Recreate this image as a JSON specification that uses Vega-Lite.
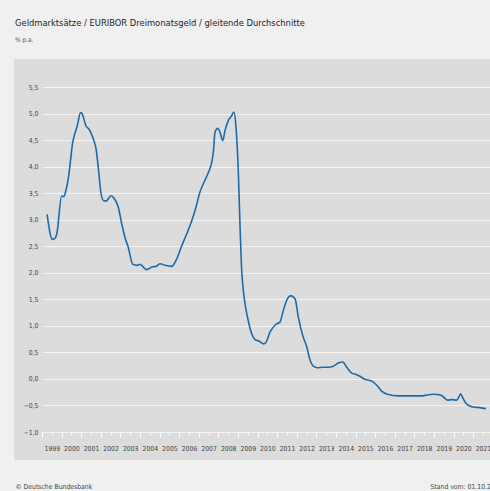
{
  "$schema": "https://vega.github.io/schema/vega-lite/v6.json",
  "autosize": {"type": "none"},
  "width": 448,
  "height": 345,
  "padding": {"left": 42, "top": 87, "right": 0, "bottom": 59},
  "background": "#f0f0f0",
  "title": {
    "text": "Geldmarktsätze / EURIBOR Dreimonatsgeld / gleitende Durchschnitte",
    "subtitle": "% p.a.",
    "anchor": "start",
    "frame": "group",
    "dx": -27,
    "offset": 40,
    "font": "DejaVu Sans Condensed, Liberation Sans Narrow, Open Sans",
    "fontSize": 9.3,
    "fontWeight": "normal",
    "color": "#222222",
    "subtitleFont": "DejaVu Sans Condensed, Liberation Sans Narrow, Open Sans",
    "subtitleFontSize": 6.5,
    "subtitleColor": "#555555",
    "subtitlePadding": 9
  },
  "data": {
    "values": [
      {"t": 1999.26, "v": 3.10}, {"t": 1999.53, "v": 2.63}, {"t": 1999.63, "v": 2.64}, {"t": 1999.75, "v": 2.72},
      {"t": 2000.00, "v": 3.44}, {"t": 2000.12, "v": 3.44}, {"t": 2000.22, "v": 3.55}, {"t": 2000.34, "v": 3.77},
      {"t": 2000.57, "v": 4.46}, {"t": 2000.80, "v": 4.77}, {"t": 2000.97, "v": 5.02}, {"t": 2001.04, "v": 5.00},
      {"t": 2001.24, "v": 4.77}, {"t": 2001.41, "v": 4.70}, {"t": 2001.62, "v": 4.52}, {"t": 2001.76, "v": 4.33},
      {"t": 2001.87, "v": 3.99}, {"t": 2001.99, "v": 3.55}, {"t": 2002.13, "v": 3.36}, {"t": 2002.27, "v": 3.35},
      {"t": 2002.52, "v": 3.45}, {"t": 2002.64, "v": 3.42}, {"t": 2002.89, "v": 3.24}, {"t": 2003.07, "v": 2.92},
      {"t": 2003.23, "v": 2.67}, {"t": 2003.40, "v": 2.48}, {"t": 2003.63, "v": 2.16}, {"t": 2003.86, "v": 2.14},
      {"t": 2004.00, "v": 2.16}, {"t": 2004.14, "v": 2.12}, {"t": 2004.31, "v": 2.06}, {"t": 2004.42, "v": 2.07},
      {"t": 2004.60, "v": 2.11}, {"t": 2004.82, "v": 2.12}, {"t": 2005.02, "v": 2.17}, {"t": 2005.28, "v": 2.14},
      {"t": 2005.62, "v": 2.12}, {"t": 2005.73, "v": 2.16}, {"t": 2005.87, "v": 2.26}, {"t": 2006.13, "v": 2.51},
      {"t": 2006.38, "v": 2.73}, {"t": 2006.64, "v": 2.98}, {"t": 2006.86, "v": 3.24}, {"t": 2007.06, "v": 3.52},
      {"t": 2007.27, "v": 3.71}, {"t": 2007.49, "v": 3.89}, {"t": 2007.66, "v": 4.08}, {"t": 2007.74, "v": 4.27},
      {"t": 2007.83, "v": 4.65}, {"t": 2007.96, "v": 4.72}, {"t": 2008.08, "v": 4.65}, {"t": 2008.22, "v": 4.49},
      {"t": 2008.34, "v": 4.68}, {"t": 2008.51, "v": 4.87}, {"t": 2008.68, "v": 4.96}, {"t": 2008.78, "v": 5.03},
      {"t": 2008.90, "v": 4.74}, {"t": 2009.02, "v": 3.86}, {"t": 2009.10, "v": 2.92}, {"t": 2009.19, "v": 2.04},
      {"t": 2009.27, "v": 1.67}, {"t": 2009.39, "v": 1.35}, {"t": 2009.52, "v": 1.10}, {"t": 2009.70, "v": 0.85},
      {"t": 2009.87, "v": 0.74}, {"t": 2010.09, "v": 0.71}, {"t": 2010.30, "v": 0.66}, {"t": 2010.43, "v": 0.69},
      {"t": 2010.63, "v": 0.88}, {"t": 2010.94, "v": 1.03}, {"t": 2011.14, "v": 1.07}, {"t": 2011.31, "v": 1.29},
      {"t": 2011.52, "v": 1.51}, {"t": 2011.69, "v": 1.57}, {"t": 2011.91, "v": 1.51}, {"t": 2012.08, "v": 1.16},
      {"t": 2012.30, "v": 0.82}, {"t": 2012.51, "v": 0.60}, {"t": 2012.68, "v": 0.35}, {"t": 2012.84, "v": 0.24},
      {"t": 2013.05, "v": 0.21}, {"t": 2013.32, "v": 0.22}, {"t": 2013.61, "v": 0.22}, {"t": 2013.86, "v": 0.24},
      {"t": 2014.12, "v": 0.30}, {"t": 2014.34, "v": 0.32}, {"t": 2014.55, "v": 0.22}, {"t": 2014.80, "v": 0.11},
      {"t": 2015.06, "v": 0.08}, {"t": 2015.22, "v": 0.05}, {"t": 2015.43, "v": 0.00}, {"t": 2015.82, "v": -0.04},
      {"t": 2016.08, "v": -0.12}, {"t": 2016.33, "v": -0.23}, {"t": 2016.62, "v": -0.29}, {"t": 2017.20, "v": -0.32},
      {"t": 2017.78, "v": -0.32}, {"t": 2018.37, "v": -0.32}, {"t": 2018.54, "v": -0.31}, {"t": 2018.97, "v": -0.29},
      {"t": 2019.31, "v": -0.30}, {"t": 2019.48, "v": -0.34}, {"t": 2019.70, "v": -0.40}, {"t": 2019.91, "v": -0.39},
      {"t": 2020.16, "v": -0.40}, {"t": 2020.28, "v": -0.33}, {"t": 2020.36, "v": -0.28}, {"t": 2020.46, "v": -0.35},
      {"t": 2020.63, "v": -0.46}, {"t": 2020.83, "v": -0.51}, {"t": 2021.00, "v": -0.53}, {"t": 2021.34, "v": -0.54},
      {"t": 2021.65, "v": -0.56}
    ]
  },
  "encoding": {
    "y": {
      "field": "v", "type": "quantitative",
      "scale": {"domain": [-1, 5.5], "nice": false, "zero": false},
      "axis": {
        "values": [-1, -0.5, 0, 0.5, 1, 1.5, 2, 2.5, 3, 3.5, 4, 4.5, 5, 5.5],
        "labelExpr": "replace(format(datum.value, '.1f'), '.', ',')",
        "labelOverlap": false,
        "labelBound": false,
        "labelFlush": false,
        "labelFont": "DejaVu Sans Condensed, Liberation Sans Narrow, Open Sans",
        "labelFontSize": 6.8,
        "labelColor": "#444444",
        "labelPadding": 4,
        "domain": false,
        "ticks": false,
        "grid": true,
        "gridColor": "#f4f4f4",
        "gridWidth": 1,
        "title": "Stand vom: 01.10.2021",
        "titleAngle": 0,
        "titleX": 388,
        "titleY": 399,
        "titleAlign": "left",
        "titleBaseline": "middle",
        "titleFont": "DejaVu Sans Condensed, Liberation Sans Narrow, Open Sans",
        "titleFontSize": 6.8,
        "titleFontWeight": "normal",
        "titleColor": "#444444"
      }
    }
  },
  "layer": [
    {
      "mark": {"type": "line", "color": "#1f6aa8", "strokeWidth": 1.6, "interpolate": "monotone"},
      "encoding": {
        "x": {
          "field": "t", "type": "quantitative",
          "scale": {"domain": [1999, 2021.857], "nice": false, "zero": false},
          "axis": {
            "orient": "bottom",
            "values": [1999, 2000, 2001, 2002, 2003, 2004, 2005, 2006, 2007, 2008, 2009, 2010, 2011, 2012, 2013, 2014, 2015, 2016, 2017, 2018, 2019, 2020, 2021],
            "labelExpr": "format(datum.value, 'd')",
            "labelOffset": 9.8,
            "labelOverlap": false,
            "labelBound": false,
            "labelFlush": false,
            "labelPadding": 8,
            "labelFont": "DejaVu Sans Condensed, Liberation Sans Narrow, Open Sans",
            "labelFontSize": 6.8,
            "labelColor": "#444444",
            "domain": false,
            "grid": false,
            "ticks": true,
            "tickColor": "#ffffff",
            "tickSize": 5,
            "tickWidth": 1,
            "title": "© Deutsche Bundesbank",
            "titleX": -27,
            "titleY": 54,
            "titleAnchor": "start",
            "titleAlign": "left",
            "titleBaseline": "middle",
            "titleFont": "DejaVu Sans Condensed, Liberation Sans Narrow, Open Sans",
            "titleFontSize": 6.8,
            "titleFontWeight": "normal",
            "titleColor": "#444444"
          }
        }
      }
    },
    {
      "mark": {"type": "line", "opacity": 0},
      "encoding": {
        "x": {
          "field": "t", "type": "quantitative",
          "axis": {
            "orient": "bottom",
            "values": [1999.5, 2000.5, 2001.5, 2002.5, 2003.5, 2004.5, 2005.5, 2006.5, 2007.5, 2008.5, 2009.5, 2010.5, 2011.5, 2012.5, 2013.5, 2014.5, 2015.5, 2016.5, 2017.5, 2018.5, 2019.5, 2020.5, 2021.5],
            "labels": false,
            "domain": false,
            "grid": false,
            "tickColor": "#ffffff",
            "tickSize": 3,
            "tickWidth": 1,
            "title": null
          }
        }
      }
    }
  ],
  "resolve": {"axis": {"x": "independent"}},
  "config": {
    "view": {"fill": "#dcdcdc", "stroke": "#dcdcdc", "strokeWidth": 56}
  }
}
